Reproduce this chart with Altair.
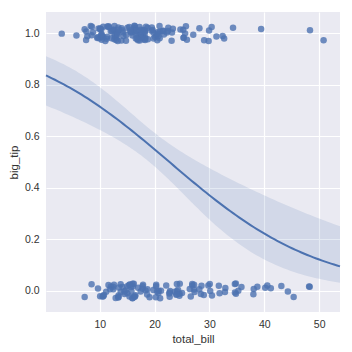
import altair as alt
import numpy as np
import pandas as pd

total_bill = [16.99,10.34,21.01,23.68,24.59,25.29,8.77,26.88,15.04,14.78,10.27,35.26,15.42,18.43,14.83,21.58,10.33,16.29,16.97,20.65,
17.92,20.29,15.77,39.42,19.82,17.81,13.37,12.69,21.7,19.65,9.55,18.35,15.06,20.69,17.78,24.06,16.31,16.93,18.69,31.27,
16.04,17.46,13.94,9.68,30.4,18.29,22.23,32.4,28.55,18.04,12.54,10.29,34.81,9.94,25.56,19.49,38.01,26.41,11.24,48.27,
20.29,13.81,11.02,18.29,17.59,20.08,16.45,3.07,20.23,15.01,12.02,17.07,26.86,25.28,14.73,10.51,17.92,27.2,22.76,17.29,
19.44,16.66,10.07,32.68,15.98,34.83,13.03,18.28,24.71,21.16,28.97,22.49,5.75,16.32,22.75,40.17,27.28,12.03,21.01,12.46,
11.35,15.38,44.3,22.42,20.92,15.36,20.49,25.21,18.24,14.31,14.0,7.25,38.07,23.95,25.71,17.31,29.93,10.65,12.43,24.08,
11.69,13.42,14.26,15.95,12.48,29.8,8.52,14.52,11.38,22.82,19.08,20.27,11.17,12.26,18.26,8.51,10.33,14.15,16.0,13.16,
17.47,34.3,41.19,27.05,16.43,8.35,18.64,11.87,9.78,7.51,14.07,13.13,17.26,24.55,19.77,29.85,48.17,25.0,13.39,16.49,
21.5,12.66,16.21,13.81,17.51,24.52,20.76,31.71,10.59,10.63,50.81,15.81,7.25,31.85,16.82,32.9,17.89,14.48,9.6,34.63,
34.65,23.33,45.35,23.17,40.55,20.69,20.9,30.46,18.15,23.1,15.69,19.81,28.44,15.48,16.58,7.56,10.34,43.11,13.0,13.51,
18.71,12.74,13.0,16.4,20.53,16.47,26.59,38.73,24.27,12.76,30.06,25.89,48.33,13.27,28.17,12.9,28.15,11.59,7.74,30.14,
12.16,13.42,8.58,15.98,13.42,16.27,10.09,20.45,13.28,22.12,24.01,15.69,11.61,10.77,15.53,10.07,12.6,32.83,35.83,29.03,
27.18,22.67,17.82,18.78]

tip = [1.01,1.66,3.5,3.31,3.61,4.71,2.0,3.12,1.96,3.23,1.71,5.0,1.57,3.0,3.02,3.92,1.67,3.71,3.5,3.35,
4.08,2.75,2.23,7.58,3.18,2.34,2.0,2.0,4.3,3.0,1.45,2.5,3.0,2.45,3.27,3.6,2.0,3.07,2.31,5.0,
2.24,2.54,3.06,1.32,5.6,3.0,5.0,6.0,2.05,3.0,2.5,2.6,5.2,1.56,4.34,3.51,3.0,1.5,1.76,6.73,
3.21,2.0,1.98,3.76,2.64,3.15,2.47,1.0,2.01,2.09,1.97,3.0,3.14,5.0,2.2,1.25,3.08,4.0,3.0,2.71,
3.0,3.4,1.83,5.0,2.03,5.17,2.0,4.0,5.85,3.0,3.0,3.5,1.0,4.3,3.25,4.73,4.0,1.5,3.0,1.5,
2.5,3.0,2.5,3.48,4.08,1.64,4.06,4.29,3.76,4.0,3.0,1.0,4.0,2.55,4.0,3.5,5.07,1.5,1.8,2.92,
2.31,1.68,2.5,2.0,2.52,4.2,1.48,2.0,2.0,2.18,1.5,2.83,1.5,2.0,3.25,1.25,2.0,2.0,2.0,2.75,
3.5,6.7,5.0,5.0,2.3,1.5,1.36,1.63,1.73,2.0,2.5,2.0,2.74,2.0,2.0,5.14,5.0,3.75,2.61,2.0,
3.5,2.5,2.0,2.0,3.0,3.48,2.24,4.5,1.61,2.0,10.0,3.16,5.15,3.18,4.0,3.11,2.0,2.0,4.0,3.55,
3.68,5.65,3.5,6.5,3.0,5.0,3.5,2.0,3.5,4.0,1.5,4.19,2.56,2.02,4.0,1.44,2.0,5.0,2.0,2.0,
4.0,2.01,2.0,2.5,4.0,3.23,3.41,3.0,2.03,2.23,2.0,5.16,9.0,2.5,6.5,1.1,3.0,1.5,1.44,3.09,
2.2,3.48,1.92,3.0,1.58,2.5,2.0,3.0,2.72,2.88,2.0,3.0,3.39,1.47,3.0,1.25,1.0,1.17,4.67,5.92,
2.0,2.0,1.75,3.0]

# vertical jitter offsets (thousandths of a unit)
jitter = [12,-25,7,-3,28,-17,4,21,-9,-29,15,1,-22,26,-6,10,-14,19,-27,5,
-11,24,-1,17,-20,8,-26,29,-4,13,-18,2,22,-8,-15,27,-23,11,6,-12,
18,-2,-28,9,25,-16,3,-10,20,-24,14,-5,29,-19,0,23,-13,7,-21,16,
-7,26,-30,11,4,-14,21,-1,-25,18,8,-9,27,-17,2,-22,13,24,-6,-28,
10,-3,19,-20,28,-11,5,-26,15,1,-16,22,-8,30,-23,12,-4,17,-29,6,
-13,25,-2,9,-19,23,-27,14,3,-10,20,-24,7,-15,28,-6,11,-21,16,-1,
24,-18,4,-29,13,21,-7,-12,27,0,-25,18,-3,8,-20,26,-9,15,-28,2,
-16,22,10,-5,-22,29,-14,6,19,-26,12,-1,25,-11,3,-30,17,-8,23,-17,
9,-23,28,-4,14,-19,1,20,-13,26,-27,5,16,-9,-21,11,24,-2,-15,27,
-6,18,-24,3,21,-10,29,-18,8,-29,15,2,-12,25,-20,7,-3,19,-26,13,
22,-7,-17,28,-1,10,-22,16,4,-14,27,-25,12,-5,20,-28,6,23,-11,0,
-19,14,26,-8,-24,9,17,-2,-30,21,-13,3,28,-16,11,-21,24,-4,15,-27,
5,-10,18,-23]

x_ticks = [10, 20, 30, 40, 50]
y_ticks = [0.0, 0.2, 0.4, 0.6, 0.8, 1.0]
x_domain = [0.2, 53.8]
y_domain = [-0.082, 1.083]
threshold = 0.15

n = min(len(total_bill), len(tip), len(jitter))
xb = np.array(total_bill[:n])
tp = np.array(tip[:n])
big = (tp / xb > threshold).astype(float)
yj = big + np.array(jitter[:n]) / 1000.0

pts = pd.DataFrame({"total_bill": xb, "big_tip": yj})

# logistic regression fit (IRLS) with 95% CI
X = np.column_stack([np.ones(n), xb])
beta = np.zeros(2)
for _ in range(50):
    p = 1 / (1 + np.exp(-X @ beta))
    W = p * (1 - p)
    H = X.T @ (X * W[:, None])
    g = X.T @ (big - p)
    beta = beta + np.linalg.solve(H, g)
p = 1 / (1 + np.exp(-X @ beta))
cov = np.linalg.inv(X.T @ (X * (p * (1 - p))[:, None]))
grid = np.linspace(x_domain[0], x_domain[1], 100)
G = np.column_stack([np.ones_like(grid), grid])
eta = G @ beta
se = np.sqrt(np.einsum("ij,jk,ik->i", G, cov, G))
sig = lambda z: 1 / (1 + np.exp(-z))
fit = pd.DataFrame({"x": grid, "y": sig(eta), "lo": sig(eta - 1.96 * se), "hi": sig(eta + 1.96 * se)})

blue = "#4C72B0"
xs = alt.Scale(domain=x_domain, nice=False, zero=False)
ys = alt.Scale(domain=y_domain, nice=False, zero=False)
xax = alt.Axis(values=x_ticks, title="total_bill", format="d")
yax = alt.Axis(values=y_ticks, title="big_tip", format=".1f")

points = alt.Chart(pts).mark_circle(size=42, opacity=0.8, color=blue).encode(
    x=alt.X("total_bill:Q", scale=xs, axis=xax),
    y=alt.Y("big_tip:Q", scale=ys, axis=yax),
)
band = alt.Chart(fit).mark_area(color=blue, opacity=0.15).encode(
    x=alt.X("x:Q", scale=xs), y=alt.Y("lo:Q", scale=ys), y2="hi:Q"
)
line = alt.Chart(fit).mark_line(color=blue, strokeWidth=2).encode(
    x=alt.X("x:Q", scale=xs), y=alt.Y("y:Q", scale=ys)
)

chart = alt.layer(points, band, line).properties(
    width=294, height=300,
    autosize=alt.AutoSizeParams(type="none"),
    padding={"left": 46, "top": 12, "right": 12, "bottom": 40},
    background="white",
).configure_view(fill="#EAEAF2", stroke=None).configure_axis(
    grid=True, gridColor="white", gridWidth=1.2, domain=False, ticks=False,
    labelFont="Liberation Sans", labelFontSize=10.5, labelColor="#333333",
    titleFont="Liberation Sans", titleFontSize=11.5, titleColor="#333333",
    titleFontWeight="normal", labelPadding=7,
).configure_axisY(titlePadding=5).configure_axisX(titlePadding=4)

chart.save("out.html", embed_options={"renderer": "svg", "actions": False})
